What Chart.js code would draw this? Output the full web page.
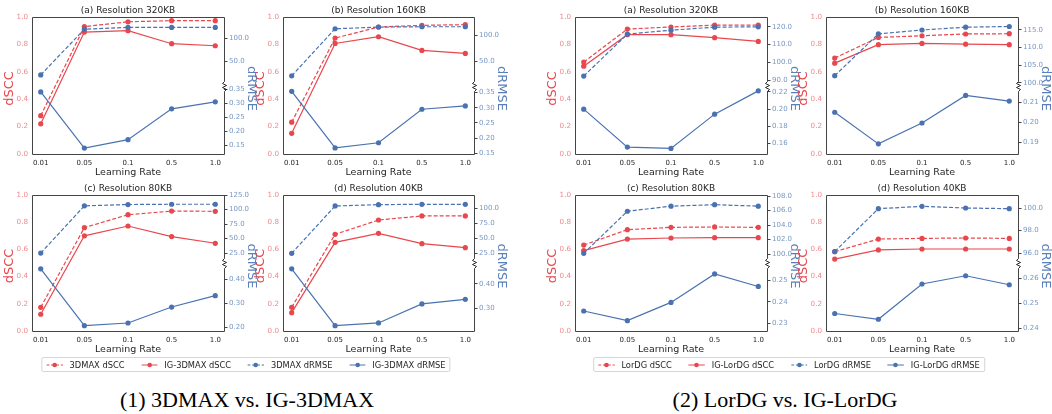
<!DOCTYPE html>
<html><head><meta charset="utf-8">
<script src="https://cdn.jsdelivr.net/npm/chart.js@4.4.1/dist/chart.umd.min.js"></script>
<style>
html,body{margin:0;padding:0;background:#fff;}
body{width:1052px;height:414px;position:relative;overflow:hidden;font-family:'DejaVu Sans';}
canvas{position:absolute;}
.legend{position:absolute;top:357px;height:15px;border:1px solid #d6d6d6;border-radius:2px;background:#fff;display:flex;align-items:center;font-size:8.3px;color:#262626;box-sizing:border-box;padding:0 4px;white-space:nowrap;transform:translateX(-50%);}
.item{display:flex;align-items:center;margin-right:16.6px}
.item:last-child{margin-right:0}
.item svg{margin-right:6.6px;display:block}
.caption{position:absolute;font-family:'Liberation Serif';font-size:22px;color:#000;top:388px;white-space:nowrap;transform:translateX(-50%);line-height:24px}
</style></head><body>
<div id="root"></div>
<script>
// ---------- DATA ----------
const learningRates = ['0.01', '0.05', '0.1', '0.5', '1.0'];

// (1) 3DMAX vs IG-3DMAX
const max320_dSCC = [0.28, 0.93, 0.965, 0.973, 0.973];
const igMax320_dSCC = [0.22, 0.89, 0.90, 0.805, 0.79];
const max320_dRMSE = [21, 120, 124, 124, 124];
const igMax320_dRMSE = [0.34, 0.14, 0.17, 0.28, 0.305];
const max320_topTicks = [50, 100];
const max320_botTicks = [0.15, 0.20, 0.25, 0.30, 0.35];

const max160_dSCC = [0.232, 0.846, 0.927, 0.939, 0.944];
const igMax160_dSCC = [0.151, 0.807, 0.856, 0.756, 0.734];
const max160_dRMSE = [22.4, 112.8, 116, 116.7, 116.7];
const igMax160_dRMSE = [0.354, 0.168, 0.185, 0.295, 0.306];
const max160_topTicks = [50, 100];
const max160_botTicks = [0.15, 0.20, 0.25, 0.30, 0.35];

const max80_dSCC = [0.174, 0.76, 0.855, 0.882, 0.88];
const igMax80_dSCC = [0.123, 0.70, 0.772, 0.694, 0.645];
const max80_dRMSE = [25, 106.3, 108.6, 109.1, 109.1];
const igMax80_dRMSE = [0.443, 0.208, 0.219, 0.285, 0.332];
const max80_topTicks = [25, 50, 75, 100, 125];
const max80_botTicks = [0.20, 0.30, 0.40];

const max40_dSCC = [0.174, 0.711, 0.816, 0.846, 0.846];
const igMax40_dSCC = [0.135, 0.652, 0.718, 0.642, 0.613];
const max40_dRMSE = [25, 103.9, 106.1, 106.7, 106.7];
const igMax40_dRMSE = [0.462, 0.229, 0.240, 0.318, 0.337];
const max40_topTicks = [25, 50, 75, 100];
const max40_botTicks = [0.30, 0.40];

// (2) LorDG vs IG-LorDG
const lor320_dSCC = [0.671, 0.912, 0.927, 0.941, 0.941];
const igLor320_dSCC = [0.641, 0.871, 0.871, 0.849, 0.822];
const lor320_dRMSE = [92.3, 115.9, 118.1, 119.8, 120.0];
const igLor320_dRMSE = [0.200, 0.156, 0.1545, 0.1942, 0.2212];
const lor320_topTicks = [90, 100, 110, 120];
const lor320_botTicks = [0.16, 0.18, 0.20, 0.22];

const lor160_dSCC = [0.70, 0.851, 0.863, 0.876, 0.878];
const igLor160_dSCC = [0.663, 0.798, 0.807, 0.802, 0.798];
const lor160_dRMSE = [102.0, 113.9, 115.0, 115.8, 116.0];
const igLor160_dRMSE = [0.205, 0.1894, 0.1997, 0.2133, 0.2105];
const lor160_topTicks = [100, 105, 110, 115];
const lor160_botTicks = [0.19, 0.20, 0.21];

const lor80_dSCC = [0.632, 0.745, 0.762, 0.765, 0.762];
const igLor80_dSCC = [0.591, 0.676, 0.684, 0.686, 0.686];
const lor80_dRMSE = [100.1, 105.9, 106.6, 106.8, 106.6];
const igLor80_dRMSE = [0.2357, 0.2312, 0.2397, 0.2529, 0.2471];
const lor80_topTicks = [100, 102, 104, 106, 108];
const lor80_botTicks = [0.23, 0.24, 0.25];

const lor40_dSCC = [0.583, 0.676, 0.681, 0.684, 0.681];
const igLor40_dSCC = [0.529, 0.596, 0.603, 0.603, 0.603];
const lor40_dRMSE = [96.15, 99.94, 100.15, 100.0, 99.94];
const igLor40_dRMSE = [0.2459, 0.2436, 0.2577, 0.2610, 0.2574];
const lor40_topTicks = [96, 98, 100];
const lor40_botTicks = [0.24, 0.25, 0.26];

// ---------- STYLE / LAYOUT ----------
const RED = '#e8474d', BLUE = '#4a72b0';
const RED_TICK = '#ef8a8c', BLUE_TICK = '#7897c4';
const FRAME = '#444444', TXT = '#262626';
const PADL = 32, PADT = 17, PADR = 40, PADB = 26;

const panels = [
  {x:32, y:17, w:192, h:137, title:'(a) Resolution 320KB', b:max320_dSCC, ig:igMax320_dSCC, bR:max320_dRMSE, igR:igMax320_dRMSE, tt:max320_topTicks, bt:max320_botTicks, tr:[-2,146.5], br:[0.119,0.363]},
  {x:283, y:17, w:191, h:137, title:'(b) Resolution 160KB', b:max160_dSCC, ig:igMax160_dSCC, bR:max160_dRMSE, igR:igMax160_dRMSE, tt:max160_topTicks, bt:max160_botTicks, tr:[3.8,135.4], br:[0.148,0.373]},
  {x:32, y:195, w:192, h:136, title:'(c) Resolution 80KB', b:max80_dSCC, ig:igMax80_dSCC, bR:max80_dRMSE, igR:igMax80_dRMSE, tt:max80_topTicks, bt:max80_botTicks, tr:[8,125], br:[0.186,0.467]},
  {x:283, y:195, w:191, h:136, title:'(d) Resolution 40KB', b:max40_dSCC, ig:igMax40_dSCC, bR:max40_dRMSE, igR:igMax40_dRMSE, tt:max40_topTicks, bt:max40_botTicks, tr:[8.8,122.2], br:[0.207,0.486]},
  {x:575, y:17, w:192, h:137, title:'(a) Resolution 320KB', b:lor320_dSCC, ig:igLor320_dSCC, bR:lor320_dRMSE, igR:igLor320_dRMSE, tt:lor320_topTicks, bt:lor320_botTicks, tr:[87,125.5], br:[0.148,0.2274]},
  {x:826, y:17, w:192, h:137, title:'(b) Resolution 160KB', b:lor160_dSCC, ig:igLor160_dSCC, bR:lor160_dRMSE, igR:igLor160_dRMSE, tt:lor160_topTicks, bt:lor160_botTicks, tr:[99.2,118.7], br:[0.1844,0.2182]},
  {x:575, y:195, w:192, h:136, title:'(c) Resolution 80KB', b:lor80_dSCC, ig:igLor80_dSCC, bR:lor80_dRMSE, igR:igLor80_dRMSE, tt:lor80_topTicks, bt:lor80_botTicks, tr:[98.76,108.14], br:[0.2264,0.258]},
  {x:826, y:195, w:192, h:136, title:'(d) Resolution 40KB', b:lor40_dSCC, ig:igLor40_dSCC, bR:lor40_dRMSE, igR:igLor40_dRMSE, tt:lor40_topTicks, bt:lor40_botTicks, tr:[95.14,101.15], br:[0.2389,0.2661]},
];

Chart.defaults.font.family = 'DejaVu Sans';
Chart.defaults.animation = false;

const decor = {
  id: 'decor',
  afterDatasetsDraw(chart, args, o) {
    const {ctx, chartArea: a} = chart;
    const L = Math.round(a.left) + 0.5, R = Math.round(a.right) + 0.5;
    const T = Math.round(a.top) + 0.5, B = Math.round(a.bottom) + 0.5;
    const mid = Math.round(chart.scales.yT.bottom) + 0.5;
    ctx.save();
    ctx.strokeStyle = FRAME; ctx.lineWidth = 1;
    ctx.beginPath();
    ctx.moveTo(R, mid - 5); ctx.lineTo(R, T); ctx.lineTo(L, T); ctx.lineTo(L, B); ctx.lineTo(R, B); ctx.lineTo(R, mid + 5);
    ctx.stroke();
    ctx.strokeStyle = '#111'; ctx.lineWidth = 0.9;
    ctx.beginPath();
    ctx.moveTo(R, mid - 5);
    for (let i = 1; i <= 4; i++) ctx.lineTo(R + (i % 2 ? -2 : 2), mid - 5 + i * 2);
    ctx.lineTo(R, mid + 5);
    ctx.stroke();
    const cx = (a.left + a.right) / 2, cy = (a.top + a.bottom) / 2 + 3;
    ctx.textAlign = 'center'; ctx.textBaseline = 'middle';
    ctx.fillStyle = TXT; ctx.font = '9px "DejaVu Sans"';
    ctx.fillText(o.title, cx, a.top - 6.3);
    ctx.font = '9.5px "DejaVu Sans"';
    ctx.fillText('Learning Rate', cx, a.bottom + 18.3);
    ctx.font = '13px "DejaVu Sans"';
    ctx.save(); ctx.translate(a.left - 22, cy); ctx.rotate(-Math.PI / 2);
    ctx.fillStyle = RED; ctx.fillText('dSCC', 0, 0); ctx.restore();
    ctx.save(); ctx.translate(a.right + 27, cy); ctx.rotate(Math.PI / 2);
    ctx.fillStyle = '#5a80b8'; ctx.fillText('dRMSE', 0, 0); ctx.restore();
    ctx.restore();
  }
};

function ds(data, color, dashed, axis) {
  return {data: data.map((v, i) => ({x: i, y: v})), yAxisID: axis, borderColor: color, backgroundColor: color,
    pointBackgroundColor: color, pointBorderWidth: 0, pointRadius: 2.6, borderWidth: 1.2,
    borderDash: dashed ? [4, 2] : [], tension: 0, clip: false};
}

const root = document.getElementById('root');
panels.forEach(p => {
  const cv = document.createElement('canvas');
  const W = PADL + p.w + PADR, H = PADT + p.h + PADB;
  cv.width = W; cv.height = H;
  cv.style.left = (p.x - PADL) + 'px'; cv.style.top = (p.y - PADT) + 'px';
  cv.style.width = W + 'px'; cv.style.height = H + 'px';
  root.appendChild(cv);
  const fixW = w => s => { s.width = w; };
  new Chart(cv, {
    type: 'line',
    data: {datasets: [
      ds(p.bR, BLUE, true, 'yT'),
      ds(p.igR, BLUE, false, 'yB'),
      ds(p.b, RED, true, 'y'),
      ds(p.ig, RED, false, 'y'),
    ]},
    options: {
      responsive: false, devicePixelRatio: 1,
      layout: {padding: {top: PADT, left: 0, right: 0, bottom: 0}, autoPadding: false},
      plugins: {legend: {display: false}, tooltip: {enabled: false}, decor: {title: p.title}},
      scales: {
        x: {type: 'linear', min: -0.2, max: 4.2, grid: {display: false, drawTicks: false}, border: {display: false},
            afterBuildTicks: s => { s.ticks = learningRates.map((_, i) => ({value: i})); },
            ticks: {callback: v => learningRates[v], color: TXT, font: {size: 7}, padding: 4.5, maxRotation: 0, autoSkip: false},
            afterFit: s => { s.height = PADB; }},
        y: {position: 'left', min: 0, max: 1, grid: {display: false, drawTicks: false}, border: {display: false},
            afterBuildTicks: s => { s.ticks = [0, 0.2, 0.4, 0.6, 0.8, 1.0].map(v => ({value: v})); },
            ticks: {callback: v => v.toFixed(1), color: RED_TICK, font: {size: 7.2}, padding: 4, autoSkip: false},
            afterFit: fixW(PADL)},
        yT: {position: 'right', stack: 'r', stackWeight: 1, min: p.tr[0], max: p.tr[1],
            grid: {drawOnChartArea: false, drawTicks: true, tickLength: 3.5, color: FRAME}, border: {display: false},
            afterBuildTicks: s => { s.ticks = p.tt.map(v => ({value: v})); },
            ticks: {callback: v => v.toFixed(1), color: BLUE_TICK, font: {size: 7}, padding: 1.5, autoSkip: false},
            afterFit: fixW(PADR)},
        yB: {position: 'right', stack: 'r', stackWeight: 1, min: p.br[0], max: p.br[1],
            grid: {drawOnChartArea: false, drawTicks: true, tickLength: 3.5, color: FRAME}, border: {display: false},
            afterBuildTicks: s => { s.ticks = p.bt.map(v => ({value: v})); },
            ticks: {callback: v => v.toFixed(2), color: BLUE_TICK, font: {size: 7}, padding: 1.5, autoSkip: false},
            afterFit: fixW(PADR)},
      }
    },
    plugins: [decor]
  });
});

function sample(color, dashed) {
  return `<svg width="16.6" height="8"><line x1="0" y1="4" x2="16.6" y2="4" stroke="${color}" stroke-width="1.2" ${dashed ? 'stroke-dasharray="3,1.8"' : ''}/><circle cx="8.3" cy="4" r="2.3" fill="${color}"/></svg>`;
}
function legend(cx, names) {
  const d = document.createElement('div');
  d.className = 'legend'; d.style.left = cx + 'px';
  const styles = [[RED, true], [RED, false], [BLUE, true], [BLUE, false]];
  d.innerHTML = names.map((n, i) => `<div class="item">${sample(styles[i][0], styles[i][1])}<span>${n}</span></div>`).join('');
  document.body.appendChild(d);
}
legend(246, ['3DMAX dSCC', 'IG-3DMAX dSCC', '3DMAX dRMSE', 'IG-3DMAX dRMSE']);
legend(789, ['LorDG dSCC', 'IG-LorDG dSCC', 'LorDG dRMSE', 'IG-LorDG dRMSE']);

function caption(cx, text) {
  const d = document.createElement('div');
  d.className = 'caption'; d.style.left = cx + 'px'; d.textContent = text;
  document.body.appendChild(d);
}
caption(247, '(1) 3DMAX vs. IG-3DMAX');
caption(785, '(2) LorDG vs. IG-LorDG');
</script>
</body></html>
